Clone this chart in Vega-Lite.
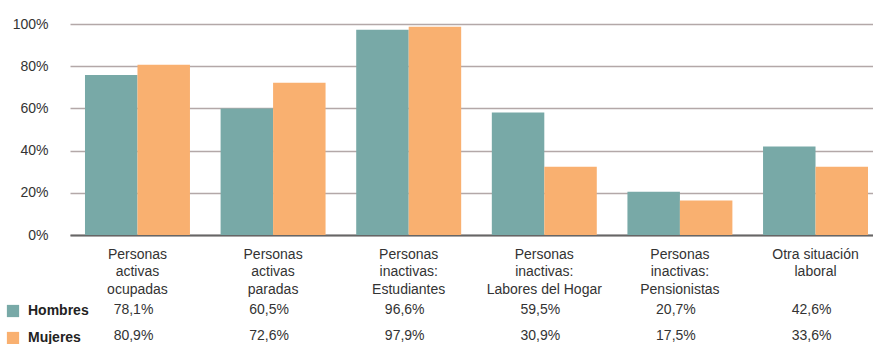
{
  "$schema": "https://vega.github.io/schema/vega-lite/v6.json",
  "padding": {"left": 6, "top": 17, "right": 0, "bottom": 0},
  "background": "white",
  "bounds": "flush",
  "data": {
    "values": [
      {"categoria": "Personas activas ocupadas", "sexo": "Hombres", "pct": 75.8, "tabla": "78,1%"},
      {"categoria": "Personas activas ocupadas", "sexo": "Mujeres", "pct": 80.7, "tabla": "80,9%"},
      {"categoria": "Personas activas paradas", "sexo": "Hombres", "pct": 60.0, "tabla": "60,5%"},
      {"categoria": "Personas activas paradas", "sexo": "Mujeres", "pct": 72.2, "tabla": "72,6%"},
      {"categoria": "Personas inactivas: Estudiantes", "sexo": "Hombres", "pct": 97.3, "tabla": "96,6%"},
      {"categoria": "Personas inactivas: Estudiantes", "sexo": "Mujeres", "pct": 98.7, "tabla": "97,9%"},
      {"categoria": "Personas inactivas: Labores del Hogar", "sexo": "Hombres", "pct": 58.0, "tabla": "59,5%"},
      {"categoria": "Personas inactivas: Labores del Hogar", "sexo": "Mujeres", "pct": 32.4, "tabla": "30,9%"},
      {"categoria": "Personas inactivas: Pensionistas", "sexo": "Hombres", "pct": 20.5, "tabla": "20,7%"},
      {"categoria": "Personas inactivas: Pensionistas", "sexo": "Mujeres", "pct": 16.3, "tabla": "17,5%"},
      {"categoria": "Otra situación laboral", "sexo": "Hombres", "pct": 41.9, "tabla": "42,6%"},
      {"categoria": "Otra situación laboral", "sexo": "Mujeres", "pct": 32.4, "tabla": "33,6%"}
    ]
  },
  "vconcat": [
    {
      "width": 803,
      "height": 211,
      "mark": {"type": "bar"},
      "encoding": {
        "x": {
          "field": "categoria", "type": "nominal", "sort": null, "title": null,
          "scale": {"paddingInner": 0.226, "paddingOuter": 0.0737, "align": 0.75},
          "axis": {
            "domain": true, "domainColor": "#666666", "domainWidth": 2,
            "ticks": false, "labelAngle": 0, "labelPadding": 12,
            "labelFont": "Liberation Sans", "labelFontSize": 14, "labelColor": "#333333",
            "labelLineHeight": 17.5, "labelLimit": 0,
            "labelExpr": "split(replace(replace(replace(replace(datum.label,'Personas ','Personas|'),'activas ','activas|'),'inactivas: ','inactivas:|'),'situación ','situación|'),'|')"
          }
        },
        "xOffset": {"field": "sexo", "type": "nominal", "scale": {"paddingInner": 0, "paddingOuter": 0}},
        "y": {
          "field": "pct", "type": "quantitative", "title": null,
          "scale": {"domain": [0, 100], "nice": false},
          "axis": {
            "values": [0, 20, 40, 60, 80, 100], "domain": false, "ticks": false,
            "labelPadding": 22, "labelExpr": "datum.value + '%'",
            "labelFont": "Liberation Sans", "labelFontSize": 14, "labelColor": "#333333",
            "gridColor": "#b3a8a8", "gridWidth": 1.5, "gridOpacity": 1
          }
        },
        "color": {
          "field": "sexo", "type": "nominal",
          "scale": {"domain": ["Hombres", "Mujeres"], "range": ["#78a9a7", "#f9b070"]},
          "legend": {
            "orient": "none", "legendX": -64, "legendY": 280, "title": null,
            "symbolType": "square", "symbolSize": 150, "symbolStrokeWidth": 0, "symbolOpacity": 1,
            "labelFont": "Liberation Sans", "labelFontSize": 14, "labelFontWeight": "bold",
            "labelColor": "#222222", "labelOffset": 8, "rowPadding": 13
          }
        }
      }
    },
    {
      "width": 803,
      "height": 40,
      "mark": {"type": "text", "font": "Liberation Sans", "fontSize": 14, "color": "#333333", "baseline": "middle", "dx": -4},
      "encoding": {
        "x": {
          "field": "categoria", "type": "nominal", "sort": null, "title": null,
          "scale": {"type": "band", "paddingInner": 0.226, "paddingOuter": 0.0737, "align": 0.75},
          "axis": null
        },
        "y": {
          "field": "sexo", "type": "nominal", "title": null,
          "scale": {"type": "point", "domain": ["Hombres", "Mujeres"], "padding": 0.27},
          "axis": null
        },
        "text": {"field": "tabla"}
      }
    }
  ],
  "spacing": 68,
  "config": {"view": {"stroke": null}}
}
